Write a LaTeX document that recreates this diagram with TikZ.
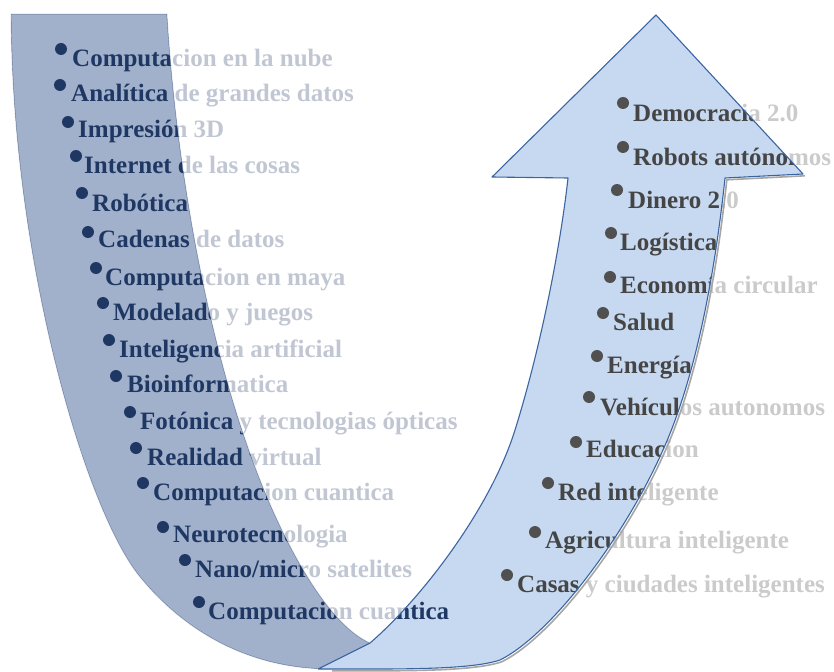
\documentclass[tikz,border=0pt]{standalone}
\usepackage{fontspec}
\setmainfont{Liberation Serif}
\definecolor{navy}{HTML}{1F3763}
\definecolor{dgray}{HTML}{454545}
\definecolor{bgray}{HTML}{505050}
\definecolor{darmfill}{HTML}{A2B1CB}
\definecolor{darmedge}{HTML}{5F7396}
\definecolor{lbandfill}{HTML}{C6D9F1}
\definecolor{lbandedge}{HTML}{3B64A0}
\begin{document}
\begin{tikzpicture}[x=1pt,y=-1pt,
  litem/.style={anchor=base west, inner sep=0pt, font=\fontsize{25}{30}\selectfont\bfseries, text=navy},
  ritem/.style={anchor=base west, inner sep=0pt, font=\fontsize{25}{30}\selectfont\bfseries, text=dgray},
  ldot/.style={fill=navy},
  rdot/.style={fill=bgray},
  darm/.style={fill=darmfill},
  lband/.style={fill=lbandfill},
  fade/.style={fill=white, fill opacity=0.72, even odd rule}]
\useasboundingbox (0,0) rectangle (834,671);

% dark (left) arm
\path[darm] (11,14) -- (167,14)
  .. controls (175,150) and (205,350) .. (267,497)
  .. controls (292,556) and (330,625) .. (370,643)
  -- (405,658) -- (405,669) -- (330,669)
  .. controls (250,669) and (185,632) .. (140,577)
  .. controls (85,510) and (12,260) .. (11,14)
  -- cycle;
\draw[darmedge, line width=0.9pt, line join=round] (330,669)
  .. controls (250,669) and (185,632) .. (140,577)
  .. controls (85,510) and (12,260) .. (11,14)
  -- (167,14)
  .. controls (175,150) and (205,350) .. (267,497)
  .. controls (292,556) and (330,625) .. (370,643);

% light (right) band with arrow head
\path[lband] (318,669) -- (370,643)
  .. controls (420,600) and (490,510) .. (515,430)
  .. controls (540,350) and (560,250) .. (568,178)
  -- (492,177) -- (656,15) -- (803,174) -- (725,178)
  .. controls (712,300) and (690,390) .. (663,450)
  .. controls (623,540) and (550,635) .. (500,660)
  .. controls (470,670) and (400,669) .. (330,669)
  -- cycle;

% items on the left arm
\fill[ldot] (61,49) circle[radius=6pt];
\node[litem] (l1) at (72,67) {Computacion en la nube};
\fill[ldot] (60,85) circle[radius=6pt];
\node[litem] (l2) at (71,102) {Analítica de grandes datos};
\fill[ldot] (68,122) circle[radius=6pt];
\node[litem] (l3) at (78,138) {Impresión 3D};
\fill[ldot] (76,156) circle[radius=6pt];
\node[litem] (l4) at (84,174) {Internet de las cosas};
\fill[ldot] (82,193) circle[radius=6pt];
\node[litem] (l5) at (92,211) {Robótica};
\fill[ldot] (88,232) circle[radius=6pt];
\node[litem] (l6) at (98,247) {Cadenas de datos};
\fill[ldot] (96,268) circle[radius=6pt];
\node[litem] (l7) at (105,285) {Computacion en maya};
\fill[ldot] (103,303) circle[radius=6pt];
\node[litem] (l8) at (113,320) {Modelado y juegos};
\fill[ldot] (109,340) circle[radius=6pt];
\node[litem] (l9) at (119,357) {Inteligencia artificial};
\fill[ldot] (116,376) circle[radius=6pt];
\node[litem] (l10) at (127,392) {Bioinformatica};
\fill[ldot] (130,412) circle[radius=6pt];
\node[litem] (l11) at (140,429) {Fotónica y tecnologias ópticas};
\fill[ldot] (136,448) circle[radius=6pt];
\node[litem] (l12) at (147,465) {Realidad virtual};
\fill[ldot] (143,483) circle[radius=6pt];
\node[litem] (l13) at (153,500) {Computacion cuantica};
\fill[ldot] (163,527) circle[radius=6pt];
\node[litem] (l14) at (173,542) {Neurotecnologia};
\fill[ldot] (185,560) circle[radius=6pt];
\node[litem] (l15) at (195,577) {Nano/micro satelites};
\fill[ldot] (199,602) circle[radius=6pt];
\node[litem] (l16) at (208,619) {Computacion cuantica};

% items on the right arm
\fill[rdot] (623,103) circle[radius=6pt];
\node[ritem] (r1) at (633,122) {Democracia 2.0};
\fill[rdot] (623,147) circle[radius=6pt];
\node[ritem] (r2) at (633,165) {Robots autónomos};
\fill[rdot] (617,190) circle[radius=6pt];
\node[ritem] (r3) at (628,208) {Dinero 2.0};
\fill[rdot] (611,233) circle[radius=6pt];
\node[ritem] (r4) at (620,250) {Logística};
\fill[rdot] (610,277) circle[radius=6pt];
\node[ritem] (r5) at (620,293) {Economía circular};
\fill[rdot] (603,313) circle[radius=6pt];
\node[ritem] (r6) at (613,330) {Salud};
\fill[rdot] (597,356) circle[radius=6pt];
\node[ritem] (r7) at (607,373) {Energía};
\fill[rdot] (589,397) circle[radius=6pt];
\node[ritem] (r8) at (600,415) {Vehículos autonomos};
\fill[rdot] (576,442) circle[radius=6pt];
\node[ritem] (r9) at (586,457) {Educacion};
\fill[rdot] (548,483) circle[radius=6pt];
\node[ritem] (r10) at (558,500) {Red inteligente};
\fill[rdot] (535,532) circle[radius=6pt];
\node[ritem] (r11) at (545,548) {Agricultura inteligente};
\fill[rdot] (507,575) circle[radius=6pt];
\node[ritem] (r12) at (517,592) {Casas y ciudades inteligentes};

% white wash over everything outside the U
\path[fade] (-5,-5) rectangle (840,676)
  (11,14) -- (167,14)
  .. controls (175,150) and (205,350) .. (267,497)
  .. controls (292,556) and (330,625) .. (370,643)
  .. controls (420,600) and (490,510) .. (515,430)
  .. controls (540,350) and (560,250) .. (568,178)
  -- (492,177) -- (656,15) -- (803,174) -- (725,178)
  .. controls (712,300) and (690,390) .. (663,450)
  .. controls (623,540) and (550,635) .. (500,660)
  .. controls (470,670) and (400,669) .. (330,669)
  .. controls (250,669) and (185,632) .. (140,577)
  .. controls (85,510) and (12,260) .. (11,14)
  -- cycle;

% outline of the light band, with a soft shadow
\draw[black!35, line width=1.6pt, shift={(1.8,1.8)}]
  (803,174) -- (725,178)
  .. controls (712,300) and (690,390) .. (663,450)
  .. controls (623,540) and (550,635) .. (500,660)
  .. controls (470,670) and (400,669) .. (330,669);
\draw[lbandedge, line width=1.1pt, line join=round] (318,669) -- (370,643)
  .. controls (420,600) and (490,510) .. (515,430)
  .. controls (540,350) and (560,250) .. (568,178)
  -- (492,177) -- (656,15) -- (803,174) -- (725,178)
  .. controls (712,300) and (690,390) .. (663,450)
  .. controls (623,540) and (550,635) .. (500,660)
  .. controls (470,670) and (400,669) .. (330,669)
  -- (318,669);
\end{tikzpicture}
\end{document}
